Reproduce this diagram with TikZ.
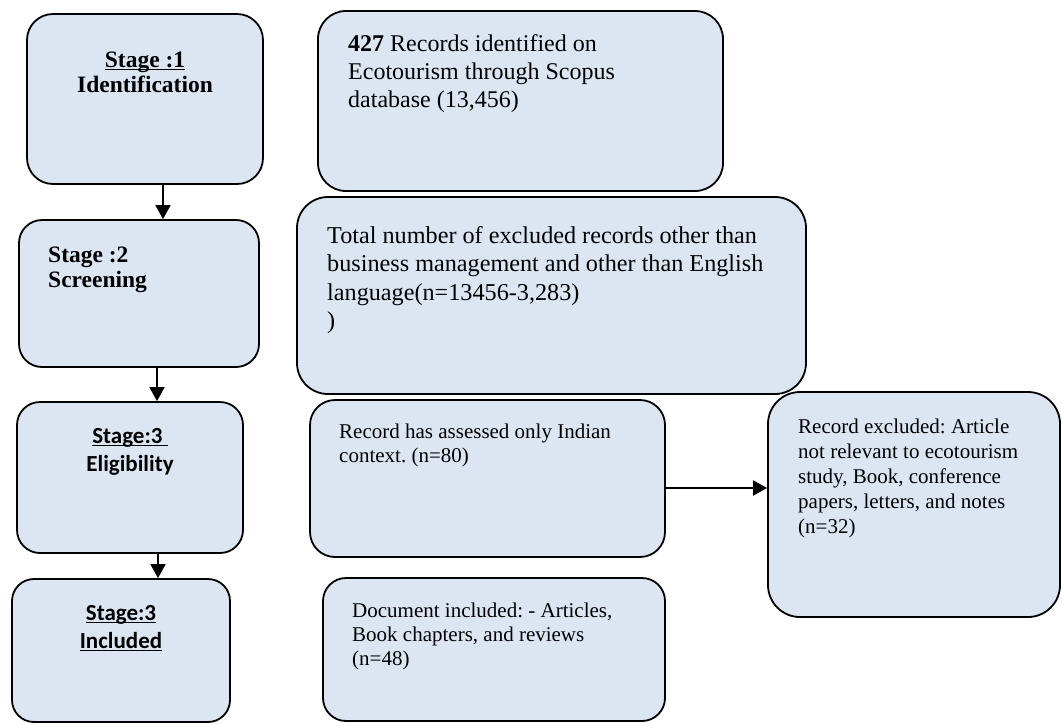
\documentclass[tikz,border=0pt]{standalone}
\usepackage{fontspec}
\setmainfont{Liberation Serif}
\newfontfamily\calibrifont{Carlito}
\usetikzlibrary{arrows.meta}
\definecolor{boxfill}{RGB}{220,230,242}
\newcommand\myul[1]{\setbox0\hbox{#1}\rlap{\rule[-3.2pt]{\wd0}{1.5pt}}\box0}
\frenchspacing
\begin{document}
\begin{tikzpicture}[x=1pt,y=-1pt,
  box/.style={draw=black, line width=1.8pt, fill=boxfill, inner sep=0pt},
  txt/.style={inner sep=0pt, align=left, anchor=base west},
  big/.style={font=\fontsize{24}{27.6}\selectfont},
  small/.style={font=\fontsize{21}{24.5}\selectfont},
  stg/.style={inner sep=0pt, font=\bfseries\fontsize{23.5}{25}\selectfont},
  cstg/.style={inner sep=0pt, align=center, anchor=base, font=\calibrifont\bfseries\fontsize{23}{28}\selectfont},
  arr/.style={line width=1.8pt, -{Triangle[width=15pt,length=14pt]}}]
\useasboundingbox (0,0) rectangle (1062,724);
% left stage boxes
\node[box, minimum width=236pt, minimum height=170pt, rounded corners=26pt] (B1) at (145,99) {};
\node[box, minimum width=240pt, minimum height=147pt, rounded corners=23pt] (B2) at (139,293.5) {};
\node[box, minimum width=226pt, minimum height=151pt, rounded corners=23pt] (B3) at (130,477.5) {};
\node[box, minimum width=218pt, minimum height=143pt, rounded corners=22pt] (B4) at (121,650.5) {};
% right boxes
\node[box, minimum width=405pt, minimum height=180pt, rounded corners=28pt] (R1) at (520.5,101) {};
\node[box, minimum width=509pt, minimum height=197pt, rounded corners=31pt] (R2) at (551.5,295.5) {};
\node[box, minimum width=355pt, minimum height=157pt, rounded corners=25pt] (R3) at (487.5,478.5) {};
\node[box, minimum width=292pt, minimum height=225pt, rounded corners=32pt] (R4) at (914,504.5) {};
\node[box, minimum width=342pt, minimum height=143pt, rounded corners=23pt] (R5) at (494,649.5) {};
% arrows
\draw[arr] ([xshift=18pt]B1.south) -- ([xshift=18pt]B1.south |- B2.north);
\draw[arr] ([xshift=18pt]B2.south) -- ([xshift=18pt]B2.south |- B3.north);
\draw[arr] ([xshift=28pt]B3.south) -- ([xshift=28pt]B3.south |- B4.north);
\draw[arr] ([yshift=-9.5pt]R3.east) -- ([yshift=-9.5pt]R3.east -| R4.west);
% stage texts (anchor = baseline of last line)
\node[stg, align=center, anchor=base] (S1) at (145,92) {\myul{Stage :1}\\Identification};
\node[stg, align=left, anchor=base west] (S2) at (48,287) {Stage :2\\Screening};
\node[cstg] (S3) at (130,471) {\myul{Stage:3\ }\\Eligibility};
\node[cstg] (S4) at (121,648) {\myul{Stage:3}\\\myul{Included}};
% box texts
\node[txt, big] (T1) at (348,107) {\textbf{427} Records identified on\\Ecotourism through Scopus\\database (13,456)};
\node[txt, big, font=\fontsize{24.2}{28.5}\selectfont] (T2) at (327,328.5) {Total number of excluded records other than\\business management and other than English\\language(n=13456-3,283)\\)};
\node[txt, small] (T3) at (339,462.5) {Record has assessed only Indian\\context. (n=80)};
\node[txt, small, font=\fontsize{21}{25}\selectfont] (T4) at (798,533) {Record excluded: Article\\not relevant to ecotourism\\study, Book, conference\\papers, letters, and notes\\(n=32)};
\node[txt, small, font=\fontsize{21}{24}\selectfont] (T5) at (352,665) {Document included: - Articles,\\Book chapters, and reviews\\(n=48)};
\end{tikzpicture}
\end{document}
